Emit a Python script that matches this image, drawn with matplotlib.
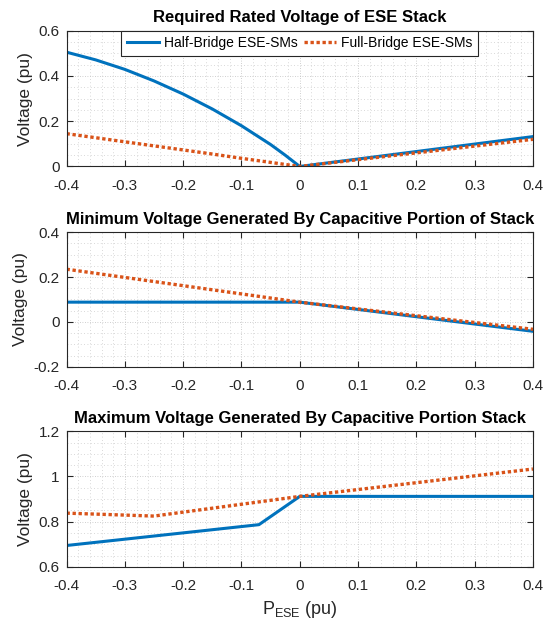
import numpy as np
import matplotlib
matplotlib.use('Agg')
import matplotlib.pyplot as plt
from matplotlib.ticker import MultipleLocator

plt.rcParams.update({'font.family': ['Liberation Sans', 'DejaVu Sans'], 'font.size': 10,
                     'mathtext.fontset': 'custom', 'mathtext.rm': 'Liberation Sans'})

# panel 1: required rated voltage
p1_x = [-0.4, -0.35, -0.3, -0.25, -0.2, -0.15, -0.1, -0.05, -0.025, 0.0, 0.1, 0.2, 0.3, 0.4]
p1_hb = [0.505, 0.471, 0.429, 0.378, 0.320, 0.254, 0.180, 0.097, 0.050, 0.0, 0.033, 0.066, 0.099, 0.132]
p1_fb = [0.145, 0.127, 0.109, 0.091, 0.073, 0.055, 0.036, 0.018, 0.009, 0.0, 0.03, 0.06, 0.09, 0.12]

# panel 2: minimum voltage
p2_x = [-0.4, 0.0, 0.4]
p2_hb = [0.088, 0.088, -0.042]
p2_fb = [0.235, 0.088, -0.033]

# panel 3: maximum voltage
p3_hb_x = [-0.4, -0.07, 0.0, 0.4]
p3_hb = [0.695, 0.787, 0.912, 0.912]
p3_fb_x = [-0.4, -0.25, 0.0, 0.4]
p3_fb = [0.838, 0.825, 0.912, 1.033]

titles = ['Required Rated Voltage of ESE Stack',
          'Minimum Voltage Generated By Capacitive Portion of Stack',
          'Maximum Voltage Generated By Capacitive Portion Stack']
ylims = [(0, 0.6), (-0.2, 0.4), (0.6, 1.2)]
xticks = [-0.4, -0.3, -0.2, -0.1, 0, 0.1, 0.2, 0.3, 0.4]
xticklabels = ['-0.4', '-0.3', '-0.2', '-0.1', '0', '0.1', '0.2', '0.3', '0.4']

c_hb = '#0072BD'
c_fb = '#D95319'

fig = plt.figure(figsize=(5.5, 6.2), dpi=100)
rects = [[0.121, 0.7315, 0.848, 0.219],
         [0.121, 0.4085, 0.848, 0.217],
         [0.121, 0.0855, 0.848, 0.219]]
axs = [fig.add_axes(r) for r in rects]

dot = (0, (1, 0.8))
axs[0].plot(p1_x, p1_hb, color=c_hb, lw=2.2, label='Half-Bridge ESE-SMs')
axs[0].plot(p1_x, p1_fb, color=c_fb, lw=2.4, ls=dot, label='Full-Bridge ESE-SMs')
axs[1].plot(p2_x, p2_hb, color=c_hb, lw=2.2)
axs[1].plot(p2_x, p2_fb, color=c_fb, lw=2.4, ls=dot)
axs[2].plot(p3_hb_x, p3_hb, color=c_hb, lw=2.2)
axs[2].plot(p3_fb_x, p3_fb, color=c_fb, lw=2.4, ls=dot)

for i, ax in enumerate(axs):
    ax.set_xlim(-0.4, 0.4)
    ax.set_ylim(*ylims[i])
    ax.set_xticks(xticks)
    ax.set_xticklabels(xticklabels)
    ax.yaxis.set_major_locator(MultipleLocator(0.2))
    ax.xaxis.set_minor_locator(MultipleLocator(0.02))
    ax.yaxis.set_minor_locator(MultipleLocator(0.05))
    ax.yaxis.set_major_formatter(plt.FuncFormatter(lambda v, p: ('%g' % round(v, 2))))
    ax.grid(True, which='major', color='#c0c0c0', lw=0.6, ls=(0, (1, 2)))
    ax.grid(True, which='minor', color='#cccccc', lw=0.6, ls=(0, (1, 3)))
    ax.set_axisbelow(True)
    ax.tick_params(which='both', direction='in', top=True, right=True, labelsize=11, colors='#262626')
    ax.tick_params(which='major', length=4)
    ax.tick_params(axis='y', which='major', pad=5)
    ax.tick_params(axis='x', which='major', pad=9)
    ax.tick_params(which='minor', length=0)
    for s in ax.spines.values():
        s.set_color('#262626')
        s.set_linewidth(0.8)
    ax.set_ylabel('Voltage (pu)', fontsize=12.5, color='#262626', labelpad=4)
    ax.set_title(titles[i], fontsize=12, fontweight='bold', pad=6)

leg = axs[0].legend(loc='upper center', ncol=2, fontsize=10, frameon=True, fancybox=False,
                    edgecolor='#262626', framealpha=1, borderpad=0.4, handlelength=2.3,
                    columnspacing=0.5, handletextpad=0.35, borderaxespad=0,
                    bbox_to_anchor=(0.5, 1.0))
leg.get_frame().set_linewidth(0.8)

axs[2].set_xlabel(r'$\mathrm{P_{ESE}}$ (pu)', fontsize=13, color='#262626', labelpad=4)

fig.savefig('out.png', dpi=100)
